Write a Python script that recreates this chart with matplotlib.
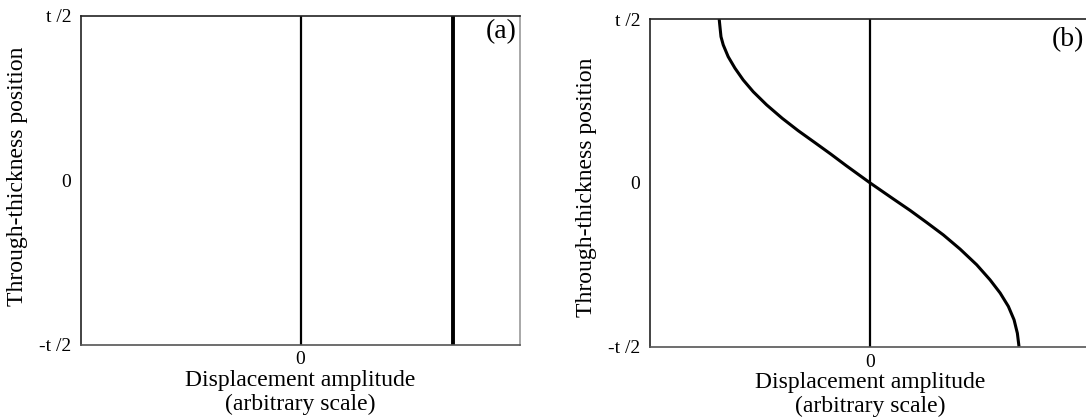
import numpy as np
import matplotlib
matplotlib.use("Agg")
import matplotlib.pyplot as plt

plt.rcParams["font.family"] = ["Liberation Serif", "DejaVu Serif"]

# through-thickness position (t = 1) and displacement, arbitrary units
uniform_disp = 1.02

pos_b = [0.5, 0.477, 0.446, 0.421, 0.385, 0.350, 0.314, 0.278, 0.238,
         0.197, 0.159, 0.123, 0.088, 0.053, 0.0,
         -0.049, -0.084, -0.121, -0.159, -0.202, -0.25, -0.296, -0.336,
         -0.377, -0.418, -0.459, -0.5]
disp_b = [-1.005, -1.0, -0.993, -0.978, -0.945, -0.9, -0.845, -0.778, -0.689,
          -0.585, -0.478, -0.368, -0.262, -0.16, 0.0,
          0.155, 0.267, 0.378, 0.489, 0.6, 0.711, 0.8, 0.867,
          0.922, 0.96, 0.982, 0.993]

ytick_vals = [-0.5, 0.0, 0.5]
ytick_labels = ["-t /2", "0", "t /2"]
xlabel = "Displacement amplitude\n(arbitrary scale)"
ylabel = "Through-thickness position"

W, H = 1086, 417
fig = plt.figure(figsize=(W / 100, H / 100), dpi=100)
axA = fig.add_axes([81 / W, (H - 344.5) / H, 439 / W, 328.5 / H])
axB = fig.add_axes([650 / W, (H - 346.7) / H, 440 / W, 327.7 / H])


def setup(ax, tag, tag_xy, ylab_y):
    ax.set_xlim(-1.466, 1.466)
    ax.set_ylim(-0.5, 0.5)
    ax.set_yticks(ytick_vals)
    ax.set_yticklabels(ytick_labels)
    ax.set_xticks([0])
    ax.set_xticklabels(["0"])
    ax.tick_params(length=0, labelsize=14, pad=7)
    ax.tick_params(axis="x", pad=5)
    ax.set_xlabel(xlabel, fontsize=17, labelpad=1, linespacing=1.2)
    ax.set_ylabel(ylabel, fontsize=17)
    ax.yaxis.set_label_coords(-0.12, ylab_y)
    for side in ["top", "left"]:
        ax.spines[side].set_color("#222222")
    ax.spines["bottom"].set_color("#555555")
    ax.spines["right"].set_color("#999999")
    for s in ax.spines.values():
        s.set_linewidth(1.2)
    ax.axvline(0, color="black", lw=1.6)
    ax.text(tag_xy[0], tag_xy[1], tag, transform=ax.transAxes,
            ha="right", va="top", fontsize=20)


setup(axA, "(a)", (0.993, 0.99), 0.513)
setup(axB, "(b)", (0.986, 0.975), 0.486)

axA.axvline(uniform_disp, color="black", lw=2.8)
axB.plot(disp_b, pos_b, color="black", lw=2.2, solid_capstyle="butt",
         solid_joinstyle="round")

fig.savefig("out.png", dpi=100)
